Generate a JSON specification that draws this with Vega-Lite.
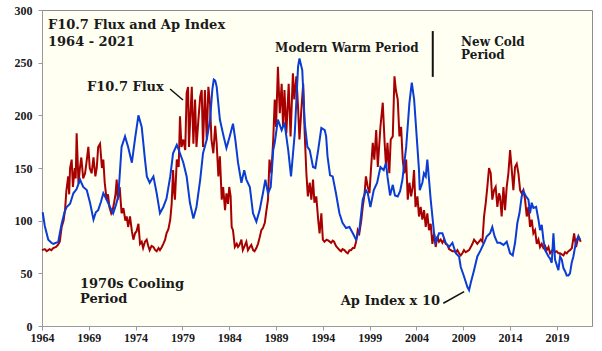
{
  "$schema": "https://vega.github.io/schema/vega-lite/v6.json",
  "width": 550,
  "height": 316,
  "autosize": {"type": "none"},
  "padding": {"left": 42, "top": 10, "right": 10, "bottom": 25},
  "background": "white",
  "config": {
    "view": {"fill": "#FFFFF2", "stroke": "#8c8c8c", "strokeWidth": 1},
    "axis": {
      "labelFont": "Liberation Serif", "labelFontWeight": "bold", "labelFontSize": 12,
      "labelColor": "#1a1a1a", "domainColor": "#9a9a9a", "tickColor": "#9a9a9a",
      "tickSize": 4, "grid": false, "title": null
    },
    "text": {"font": "DejaVu Serif", "fontWeight": "bold", "fontSize": 13, "color": "#1a1a1a", "align": "left", "baseline": "alphabetic"}
  },
  "datasets": {
    "one": [{}],
    "flux": [
      {"year":1964.0,"value":72},{"year":1964.3,"value":73},{"year":1964.5,"value":71},{"year":1964.8,"value":73},
      {"year":1965.0,"value":72},{"year":1965.2,"value":74},{"year":1965.5,"value":75},{"year":1965.7,"value":77},
      {"year":1965.9,"value":80},{"year":1966.1,"value":94},{"year":1966.3,"value":100},{"year":1966.46,"value":110},
      {"year":1966.6,"value":128},{"year":1966.8,"value":142},{"year":1966.9,"value":125},{"year":1967.0,"value":150},
      {"year":1967.17,"value":158},{"year":1967.3,"value":132},{"year":1967.5,"value":150},{"year":1967.6,"value":140},
      {"year":1967.7,"value":183},{"year":1967.9,"value":135},{"year":1968.05,"value":150},{"year":1968.2,"value":160},
      {"year":1968.4,"value":140},{"year":1968.6,"value":145},{"year":1968.75,"value":155},{"year":1968.95,"value":170},
      {"year":1969.1,"value":150},{"year":1969.3,"value":145},{"year":1969.5,"value":160},{"year":1969.7,"value":142},
      {"year":1969.85,"value":150},{"year":1970.0,"value":170},{"year":1970.2,"value":173},{"year":1970.4,"value":150},
      {"year":1970.55,"value":158},{"year":1970.7,"value":136},{"year":1970.9,"value":120},{"year":1971.05,"value":125},
      {"year":1971.2,"value":113},{"year":1971.4,"value":107},{"year":1971.55,"value":110},{"year":1971.7,"value":117},
      {"year":1971.85,"value":125},{"year":1971.98,"value":139},{"year":1972.1,"value":120},{"year":1972.3,"value":132},
      {"year":1972.5,"value":107},{"year":1972.7,"value":112},{"year":1972.9,"value":100},{"year":1973.05,"value":104},
      {"year":1973.2,"value":94},{"year":1973.4,"value":104},{"year":1973.6,"value":90},{"year":1973.76,"value":82},
      {"year":1973.94,"value":88},{"year":1974.1,"value":90},{"year":1974.3,"value":97},{"year":1974.47,"value":78},
      {"year":1974.65,"value":80},{"year":1974.8,"value":74},{"year":1975.0,"value":80},{"year":1975.18,"value":82},
      {"year":1975.35,"value":76},{"year":1975.5,"value":72},{"year":1975.7,"value":76},{"year":1975.9,"value":75},
      {"year":1976.1,"value":72},{"year":1976.25,"value":71},{"year":1976.45,"value":74},{"year":1976.6,"value":72},
      {"year":1976.8,"value":75},{"year":1976.96,"value":78},{"year":1977.15,"value":82},{"year":1977.3,"value":88},
      {"year":1977.5,"value":92},{"year":1977.7,"value":101},{"year":1977.85,"value":116},{"year":1978.0,"value":148},
      {"year":1978.1,"value":128},{"year":1978.2,"value":120},{"year":1978.4,"value":158},{"year":1978.6,"value":151},
      {"year":1978.74,"value":199},{"year":1978.9,"value":170},{"year":1979.1,"value":177},{"year":1979.3,"value":167},
      {"year":1979.45,"value":221},{"year":1979.6,"value":227},{"year":1979.7,"value":170},{"year":1979.85,"value":200},
      {"year":1980.0,"value":227},{"year":1980.17,"value":173},{"year":1980.35,"value":215},{"year":1980.5,"value":170},
      {"year":1980.7,"value":195},{"year":1980.9,"value":218},{"year":1981.06,"value":224},{"year":1981.2,"value":170},
      {"year":1981.4,"value":224},{"year":1981.6,"value":177},{"year":1981.77,"value":227},{"year":1981.95,"value":211},
      {"year":1982.1,"value":177},{"year":1982.3,"value":164},{"year":1982.5,"value":190},{"year":1982.66,"value":173},
      {"year":1982.84,"value":142},{"year":1983.0,"value":161},{"year":1983.2,"value":120},{"year":1983.35,"value":132},
      {"year":1983.55,"value":110},{"year":1983.7,"value":126},{"year":1983.87,"value":116},{"year":1984.0,"value":132},
      {"year":1984.15,"value":123},{"year":1984.26,"value":94},{"year":1984.4,"value":91},{"year":1984.6,"value":75},
      {"year":1984.8,"value":78},{"year":1984.94,"value":75},{"year":1985.1,"value":77},{"year":1985.3,"value":82},
      {"year":1985.45,"value":72},{"year":1985.65,"value":76},{"year":1985.83,"value":80},{"year":1986.0,"value":72},
      {"year":1986.2,"value":75},{"year":1986.36,"value":77},{"year":1986.55,"value":72},{"year":1986.7,"value":71},
      {"year":1986.9,"value":74},{"year":1987.07,"value":78},{"year":1987.25,"value":84},{"year":1987.43,"value":91},
      {"year":1987.6,"value":93},{"year":1987.8,"value":98},{"year":1987.95,"value":108},{"year":1988.14,"value":120},
      {"year":1988.3,"value":158},{"year":1988.5,"value":145},{"year":1988.7,"value":177},{"year":1988.86,"value":215},
      {"year":1989.0,"value":189},{"year":1989.2,"value":246},{"year":1989.4,"value":202},{"year":1989.6,"value":230},
      {"year":1989.75,"value":189},{"year":1989.9,"value":224},{"year":1990.1,"value":183},{"year":1990.35,"value":230},
      {"year":1990.55,"value":180},{"year":1990.8,"value":240},{"year":1990.95,"value":215},{"year":1991.17,"value":237},
      {"year":1991.35,"value":208},{"year":1991.5,"value":177},{"year":1991.7,"value":205},{"year":1991.9,"value":230},
      {"year":1992.06,"value":183},{"year":1992.24,"value":145},{"year":1992.4,"value":123},{"year":1992.6,"value":136},
      {"year":1992.77,"value":120},{"year":1992.95,"value":139},{"year":1993.1,"value":117},{"year":1993.3,"value":123},
      {"year":1993.5,"value":101},{"year":1993.65,"value":88},{"year":1993.84,"value":107},{"year":1994.0,"value":82},
      {"year":1994.17,"value":80},{"year":1994.4,"value":82},{"year":1994.6,"value":81},{"year":1994.88,"value":79},
      {"year":1995.05,"value":81},{"year":1995.2,"value":80},{"year":1995.4,"value":76},{"year":1995.6,"value":74},
      {"year":1995.8,"value":72},{"year":1995.95,"value":71},{"year":1996.1,"value":73},{"year":1996.3,"value":72},
      {"year":1996.5,"value":70},{"year":1996.66,"value":69},{"year":1996.85,"value":72},{"year":1997.0,"value":72},
      {"year":1997.2,"value":74},{"year":1997.37,"value":74},{"year":1997.55,"value":80},{"year":1997.73,"value":91},
      {"year":1997.9,"value":88},{"year":1998.1,"value":100},{"year":1998.26,"value":113},{"year":1998.45,"value":125},
      {"year":1998.6,"value":142},{"year":1998.8,"value":132},{"year":1998.98,"value":126},{"year":1999.15,"value":150},
      {"year":1999.33,"value":174},{"year":1999.5,"value":158},{"year":1999.7,"value":186},{"year":1999.87,"value":151},
      {"year":2000.15,"value":189},{"year":2000.4,"value":212},{"year":2000.6,"value":174},{"year":2000.75,"value":151},
      {"year":2000.9,"value":174},{"year":2001.1,"value":145},{"year":2001.25,"value":177},{"year":2001.47,"value":180},
      {"year":2001.65,"value":237},{"year":2001.8,"value":224},{"year":2002.0,"value":215},{"year":2002.18,"value":180},
      {"year":2002.36,"value":189},{"year":2002.53,"value":158},{"year":2002.7,"value":145},{"year":2002.9,"value":158},
      {"year":2003.07,"value":120},{"year":2003.25,"value":136},{"year":2003.43,"value":123},{"year":2003.6,"value":132},
      {"year":2003.74,"value":148},{"year":2003.9,"value":113},{"year":2004.1,"value":123},{"year":2004.27,"value":104},
      {"year":2004.45,"value":113},{"year":2004.63,"value":101},{"year":2004.81,"value":110},{"year":2004.99,"value":94},
      {"year":2005.16,"value":107},{"year":2005.34,"value":91},{"year":2005.52,"value":97},{"year":2005.7,"value":78},
      {"year":2005.88,"value":88},{"year":2006.05,"value":75},{"year":2006.23,"value":85},{"year":2006.41,"value":80},
      {"year":2006.59,"value":82},{"year":2006.77,"value":79},{"year":2006.95,"value":82},{"year":2007.12,"value":78},
      {"year":2007.3,"value":77},{"year":2007.48,"value":73},{"year":2007.66,"value":72},{"year":2007.84,"value":71},
      {"year":2008.01,"value":71},{"year":2008.2,"value":70},{"year":2008.37,"value":72},{"year":2008.55,"value":69},
      {"year":2008.73,"value":67},{"year":2008.9,"value":69},{"year":2009.08,"value":72},{"year":2009.26,"value":70},
      {"year":2009.44,"value":71},{"year":2009.62,"value":72},{"year":2009.8,"value":75},{"year":2009.98,"value":78},
      {"year":2010.15,"value":82},{"year":2010.33,"value":80},{"year":2010.5,"value":78},{"year":2010.68,"value":80},
      {"year":2010.86,"value":82},{"year":2011.04,"value":80},{"year":2011.22,"value":104},{"year":2011.4,"value":117},
      {"year":2011.57,"value":132},{"year":2011.75,"value":150},{"year":2011.93,"value":145},{"year":2012.1,"value":120},
      {"year":2012.29,"value":129},{"year":2012.46,"value":132},{"year":2012.64,"value":113},{"year":2012.82,"value":126},
      {"year":2012.93,"value":123},{"year":2013.1,"value":104},{"year":2013.29,"value":132},{"year":2013.46,"value":110},
      {"year":2013.64,"value":132},{"year":2013.82,"value":145},{"year":2014.0,"value":167},{"year":2014.18,"value":148},
      {"year":2014.35,"value":129},{"year":2014.53,"value":151},{"year":2014.71,"value":154},{"year":2014.89,"value":145},
      {"year":2015.07,"value":129},{"year":2015.24,"value":126},{"year":2015.42,"value":129},{"year":2015.6,"value":120},
      {"year":2015.78,"value":104},{"year":2015.96,"value":113},{"year":2016.13,"value":94},{"year":2016.31,"value":101},
      {"year":2016.49,"value":88},{"year":2016.67,"value":91},{"year":2016.85,"value":78},{"year":2017.03,"value":82},
      {"year":2017.2,"value":75},{"year":2017.38,"value":78},{"year":2017.56,"value":74},{"year":2017.74,"value":76},
      {"year":2017.92,"value":72},{"year":2018.1,"value":75},{"year":2018.27,"value":69},{"year":2018.45,"value":71},
      {"year":2018.63,"value":74},{"year":2018.8,"value":70},{"year":2018.98,"value":71},{"year":2019.16,"value":69},
      {"year":2019.34,"value":69},{"year":2019.52,"value":68},{"year":2019.7,"value":67},{"year":2019.87,"value":70},
      {"year":2020.05,"value":69},{"year":2020.23,"value":71},{"year":2020.4,"value":72},{"year":2020.6,"value":74},
      {"year":2020.84,"value":88},{"year":2021.05,"value":75},{"year":2021.3,"value":85},{"year":2021.55,"value":80}
    ],
    "ap": [
      {"year":1964.07,"value":108},{"year":1964.3,"value":95},{"year":1964.67,"value":82},{"year":1965.0,"value":79},
      {"year":1965.2,"value":78},{"year":1965.5,"value":79},{"year":1965.74,"value":80},{"year":1965.9,"value":88},
      {"year":1966.1,"value":97},{"year":1966.4,"value":108},{"year":1966.64,"value":113},{"year":1967.0,"value":116},
      {"year":1967.35,"value":126},{"year":1967.7,"value":130},{"year":1968.06,"value":139},{"year":1968.4,"value":132},
      {"year":1968.78,"value":129},{"year":1969.13,"value":117},{"year":1969.5,"value":101},{"year":1969.75,"value":108},
      {"year":1970.0,"value":110},{"year":1970.3,"value":118},{"year":1970.55,"value":126},{"year":1970.9,"value":120},
      {"year":1971.26,"value":113},{"year":1971.6,"value":107},{"year":1971.9,"value":115},{"year":1972.15,"value":123},
      {"year":1972.5,"value":170},{"year":1972.87,"value":180},{"year":1973.2,"value":170},{"year":1973.6,"value":155},
      {"year":1973.94,"value":178},{"year":1974.3,"value":200},{"year":1974.65,"value":189},{"year":1975.0,"value":158},
      {"year":1975.2,"value":142},{"year":1975.5,"value":136},{"year":1975.9,"value":142},{"year":1976.25,"value":126},
      {"year":1976.6,"value":107},{"year":1976.96,"value":113},{"year":1977.3,"value":121},{"year":1977.7,"value":142},
      {"year":1978.0,"value":164},{"year":1978.4,"value":172},{"year":1978.74,"value":164},{"year":1979.1,"value":155},
      {"year":1979.45,"value":142},{"year":1979.8,"value":117},{"year":1980.17,"value":102},{"year":1980.5,"value":113},
      {"year":1980.9,"value":139},{"year":1981.2,"value":164},{"year":1981.6,"value":177},{"year":1981.95,"value":196},
      {"year":1982.2,"value":225},{"year":1982.35,"value":234},{"year":1982.5,"value":233},{"year":1982.66,"value":227},
      {"year":1983.0,"value":196},{"year":1983.4,"value":180},{"year":1983.7,"value":169},{"year":1984.05,"value":180},
      {"year":1984.4,"value":192},{"year":1984.65,"value":177},{"year":1984.94,"value":155},{"year":1985.3,"value":136},
      {"year":1985.6,"value":148},{"year":1985.83,"value":139},{"year":1986.2,"value":132},{"year":1986.54,"value":107},
      {"year":1986.9,"value":99},{"year":1987.25,"value":110},{"year":1987.6,"value":126},{"year":1987.86,"value":139},
      {"year":1988.14,"value":126},{"year":1988.43,"value":132},{"year":1988.7,"value":167},{"year":1988.86,"value":174},
      {"year":1989.2,"value":196},{"year":1989.6,"value":186},{"year":1989.9,"value":193},{"year":1990.3,"value":167},
      {"year":1990.6,"value":142},{"year":1991.0,"value":183},{"year":1991.35,"value":246},{"year":1991.5,"value":254},
      {"year":1991.8,"value":243},{"year":1992.06,"value":193},{"year":1992.35,"value":170},{"year":1992.6,"value":167},
      {"year":1992.95,"value":151},{"year":1993.2,"value":150},{"year":1993.5,"value":167},{"year":1993.84,"value":188},
      {"year":1994.2,"value":186},{"year":1994.35,"value":180},{"year":1994.5,"value":161},{"year":1994.77,"value":143},
      {"year":1995.05,"value":142},{"year":1995.4,"value":126},{"year":1995.77,"value":107},{"year":1996.1,"value":98},
      {"year":1996.48,"value":93},{"year":1996.84,"value":94},{"year":1997.2,"value":88},{"year":1997.55,"value":82},
      {"year":1997.9,"value":91},{"year":1998.26,"value":120},{"year":1998.6,"value":129},{"year":1998.8,"value":126},
      {"year":1999.08,"value":113},{"year":1999.44,"value":129},{"year":1999.8,"value":136},{"year":2000.15,"value":151},
      {"year":2000.5,"value":148},{"year":2000.75,"value":155},{"year":2000.9,"value":142},{"year":2001.18,"value":124},
      {"year":2001.47,"value":134},{"year":2001.7,"value":124},{"year":2002.0,"value":123},{"year":2002.25,"value":128},
      {"year":2002.5,"value":139},{"year":2002.9,"value":170},{"year":2003.25,"value":212},{"year":2003.5,"value":231},
      {"year":2003.75,"value":215},{"year":2004.1,"value":170},{"year":2004.27,"value":148},{"year":2004.35,"value":129},
      {"year":2004.63,"value":136},{"year":2004.8,"value":145},{"year":2004.99,"value":142},{"year":2005.16,"value":158},
      {"year":2005.34,"value":139},{"year":2005.52,"value":120},{"year":2005.7,"value":104},{"year":2005.88,"value":88},
      {"year":2006.05,"value":79},{"year":2006.41,"value":88},{"year":2006.77,"value":88},{"year":2007.12,"value":79},
      {"year":2007.48,"value":75},{"year":2007.84,"value":79},{"year":2008.2,"value":69},{"year":2008.55,"value":66},
      {"year":2008.73,"value":56},{"year":2009.08,"value":47},{"year":2009.44,"value":37},{"year":2009.62,"value":34},
      {"year":2009.8,"value":41},{"year":2010.15,"value":53},{"year":2010.5,"value":66},{"year":2010.86,"value":72},
      {"year":2011.22,"value":79},{"year":2011.5,"value":85},{"year":2011.86,"value":88},{"year":2012.1,"value":94},
      {"year":2012.35,"value":85},{"year":2012.64,"value":79},{"year":2012.93,"value":79},{"year":2013.3,"value":77},
      {"year":2013.64,"value":80},{"year":2014.0,"value":69},{"year":2014.28,"value":67},{"year":2014.53,"value":79},
      {"year":2014.78,"value":98},{"year":2015.0,"value":107},{"year":2015.24,"value":123},{"year":2015.42,"value":128},
      {"year":2015.7,"value":123},{"year":2015.96,"value":120},{"year":2016.13,"value":107},{"year":2016.31,"value":117},
      {"year":2016.49,"value":112},{"year":2016.78,"value":113},{"year":2017.03,"value":101},{"year":2017.2,"value":91},
      {"year":2017.38,"value":96},{"year":2017.56,"value":82},{"year":2017.74,"value":72},{"year":2017.92,"value":69},
      {"year":2018.1,"value":66},{"year":2018.27,"value":64},{"year":2018.45,"value":60},{"year":2018.63,"value":88},
      {"year":2018.8,"value":63},{"year":2018.98,"value":58},{"year":2019.16,"value":53},{"year":2019.34,"value":66},
      {"year":2019.52,"value":63},{"year":2019.7,"value":55},{"year":2019.87,"value":52},{"year":2020.05,"value":48},
      {"year":2020.23,"value":48},{"year":2020.4,"value":50},{"year":2020.58,"value":60},{"year":2020.76,"value":66},
      {"year":2020.94,"value":75},{"year":2021.12,"value":82},{"year":2021.3,"value":85},{"year":2021.48,"value":82}
    ]
  },
  "encoding": {
    "x": {"type": "quantitative", "scale": {"domain": [1964, 2022.75], "nice": false, "zero": false},
          "axis": {"values": [1964,1969,1974,1979,1984,1989,1994,1999,2004,2009,2014,2019], "format": "d", "labelPadding": 2, "labelFlush": false}},
    "y": {"type": "quantitative", "scale": {"domain": [0, 300], "nice": false},
          "axis": {"values": [0,50,100,150,200,250,300], "labelPadding": 6}}
  },
  "layer": [
    {"data": {"name": "flux"}, "mark": {"type": "line", "color": "#A80000", "strokeWidth": 2},
     "encoding": {"x": {"field": "year", "type": "quantitative"}, "y": {"field": "value", "type": "quantitative"}}},
    {"data": {"name": "ap"}, "mark": {"type": "line", "color": "#0A3CD6", "strokeWidth": 2},
     "encoding": {"x": {"field": "year", "type": "quantitative"}, "y": {"field": "value", "type": "quantitative"}}},
    {"data": {"name": "one"}, "mark": {"type": "rule", "color": "#111", "strokeWidth": 2},
     "encoding": {"x": {"datum": 2005.74}, "y": {"datum": 236.5}, "y2": {"datum": 280}}},
    {"data": {"name": "one"}, "mark": {"type": "rule", "color": "#111", "strokeWidth": 1.5},
     "encoding": {"x": {"datum": 1977.68}, "y": {"datum": 225}, "x2": {"datum": 1979.06}, "y2": {"datum": 214.6}}},
    {"data": {"name": "one"}, "mark": {"type": "rule", "color": "#111", "strokeWidth": 1.5},
     "encoding": {"x": {"datum": 2006.87}, "y": {"datum": 21.6}, "x2": {"datum": 2009.09}, "y2": {"datum": 32.6}}},
    {"data": {"name": "one"}, "mark": {"type": "text"}, "encoding": {"x": {"datum": 1964.64}, "y": {"datum": 282}, "text": {"value": "F10.7 Flux and Ap Index"}}},
    {"data": {"name": "one"}, "mark": {"type": "text"}, "encoding": {"x": {"datum": 1964.64}, "y": {"datum": 266}, "text": {"value": "1964 - 2021"}}},
    {"data": {"name": "one"}, "mark": {"type": "text"}, "encoding": {"x": {"datum": 1968.81}, "y": {"datum": 223.5}, "text": {"value": "F10.7 Flux"}}},
    {"data": {"name": "one"}, "mark": {"type": "text", "fontSize": 12}, "encoding": {"x": {"datum": 1988.9}, "y": {"datum": 260.5}, "text": {"value": "Modern Warm Period"}}},
    {"data": {"name": "one"}, "mark": {"type": "text", "fontSize": 12}, "encoding": {"x": {"datum": 2008.77}, "y": {"datum": 266}, "text": {"value": "New Cold"}}},
    {"data": {"name": "one"}, "mark": {"type": "text", "fontSize": 12}, "encoding": {"x": {"datum": 2008.77}, "y": {"datum": 253.3}, "text": {"value": "Period"}}},
    {"data": {"name": "one"}, "mark": {"type": "text"}, "encoding": {"x": {"datum": 1968.06}, "y": {"datum": 35.8}, "text": {"value": "1970s Cooling"}}},
    {"data": {"name": "one"}, "mark": {"type": "text"}, "encoding": {"x": {"datum": 1968.06}, "y": {"datum": 21.6}, "text": {"value": "Period"}}},
    {"data": {"name": "one"}, "mark": {"type": "text"}, "encoding": {"x": {"datum": 1995.91}, "y": {"datum": 20}, "text": {"value": "Ap Index x 10"}}}
  ]
}
